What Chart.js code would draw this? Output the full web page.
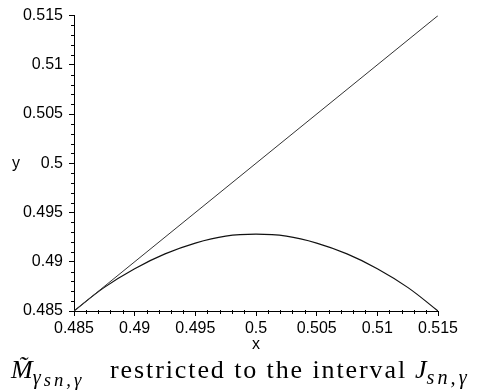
<!DOCTYPE html>
<html>
<head>
<meta charset="utf-8">
<script src="https://cdn.jsdelivr.net/npm/chart.js@4/dist/chart.umd.min.js"></script>
<style>
  html, body { margin: 0; padding: 0; background: #fff; }
  #wrap { position: relative; width: 485px; height: 391px; overflow: hidden; }
  #plot { position: absolute; left: 0; top: 0; width: 485px; height: 391px; }
  .cap { position: absolute; font-family: "Liberation Serif", "DejaVu Serif", serif; font-size: 26px; color: #000; white-space: nowrap; line-height: 1; }
  .cap i { font-style: italic; }
  .cap sub { font-size: 0.78em; vertical-align: -0.3em; letter-spacing: 3px; }
  .cap sub sub { font-size: 0.92em; vertical-align: -0.12em; }
</style>
</head>
<body>
<div id="wrap">
  <div id="plot"><canvas id="c"></canvas></div>
  <div class="cap" style="left:11px; top:357px;"><i>M&#771;</i><sub><i>γ</i><sub><i>sn,γ</i></sub></sub></div>
  <div class="cap" style="left:110px; top:357px; letter-spacing:1.9px;">restricted to the interval</div>
  <div class="cap" style="left:415px; top:357px;"><i>J</i><sub><i>sn,γ</i></sub></div>
</div>
<script>
// diagonal y = x
const diagX = [0.485, 0.515];
const diagY = [0.485, 0.515];

// curve
const curveX = [0.485, 0.4875, 0.49, 0.4925, 0.495, 0.4975, 0.5, 0.5025, 0.505, 0.5075, 0.51, 0.5125, 0.515];
const curveY = [0.4850, 0.4874, 0.4893, 0.4908, 0.4919, 0.4926, 0.4928, 0.4926, 0.4919, 0.4908, 0.4893, 0.4874, 0.4850];

const AXIS_MIN = 0.485;
const AXIS_MAX = 0.515;
const MAJOR_STEP = 0.005;

const FONT = { family: "'Liberation Sans', Arial, sans-serif", size: 16 };

const pts = (xs, ys) => xs.map((x, i) => ({ x, y: ys[i] }));
const fmt = v => parseFloat(Number(v).toFixed(3)).toString();

// minor ticks every 0.001 + the plain "x" / "y" labels
const axisExtras = {
  id: "axisExtras",
  afterDraw(chart) {
    const { ctx, scales: { x, y } } = chart;
    ctx.save();
    ctx.strokeStyle = "#000";
    ctx.lineWidth = 1;
    for (let i = 0; i <= 30; i++) {
      if (i % 5 === 0) continue;
      const v = AXIS_MIN + i * 0.001;
      const px = Math.round(x.getPixelForValue(v)) + 0.5;
      const py = Math.round(y.getPixelForValue(v)) + 0.5;
      ctx.beginPath();
      ctx.moveTo(px, y.bottom - 1);
      ctx.lineTo(px, y.bottom + 3);
      ctx.moveTo(x.left + 1, py);
      ctx.lineTo(x.left - 3, py);
      ctx.stroke();
    }
    ctx.fillStyle = "#000";
    ctx.font = "16px " + FONT.family;
    ctx.textAlign = "center";
    ctx.textBaseline = "middle";
    ctx.fillText("y", 16, y.getPixelForValue(0.5));
    ctx.fillText("x", (x.left + x.right) / 2, 345);
    ctx.restore();
  }
};

new Chart(document.getElementById("c"), {
  type: "line",
  data: {
    datasets: [
      { data: pts(diagX, diagY), borderColor: "#333", borderWidth: 1, pointRadius: 0 },
      { data: pts(curveX, curveY), borderColor: "#111", borderWidth: 1.2, pointRadius: 0, tension: 0.4 }
    ]
  },
  options: {
    responsive: true,
    maintainAspectRatio: false,
    animation: false,
    layout: { padding: { top: 13, right: 47, left: 0, bottom: 0 } },
    plugins: { legend: { display: false }, tooltip: { enabled: false } },
    scales: {
      x: {
        type: "linear", min: AXIS_MIN, max: AXIS_MAX,
        afterFit: s => { s.height = 80; },
        ticks: { stepSize: MAJOR_STEP, color: "#000", font: FONT, padding: 3, maxRotation: 0, autoSkip: false, callback: fmt },
        grid: { drawOnChartArea: false, tickLength: 5, tickColor: "#000" },
        border: { color: "#000", width: 1 }
      },
      y: {
        type: "linear", min: AXIS_MIN, max: AXIS_MAX,
        afterFit: s => { s.width = 74; },
        ticks: { stepSize: MAJOR_STEP, color: "#000", font: FONT, padding: 6, autoSkip: false, callback: fmt },
        grid: { drawOnChartArea: false, tickLength: 5, tickColor: "#000" },
        border: { color: "#000", width: 1 }
      }
    }
  },
  plugins: [axisExtras]
});
</script>
</body>
</html>
